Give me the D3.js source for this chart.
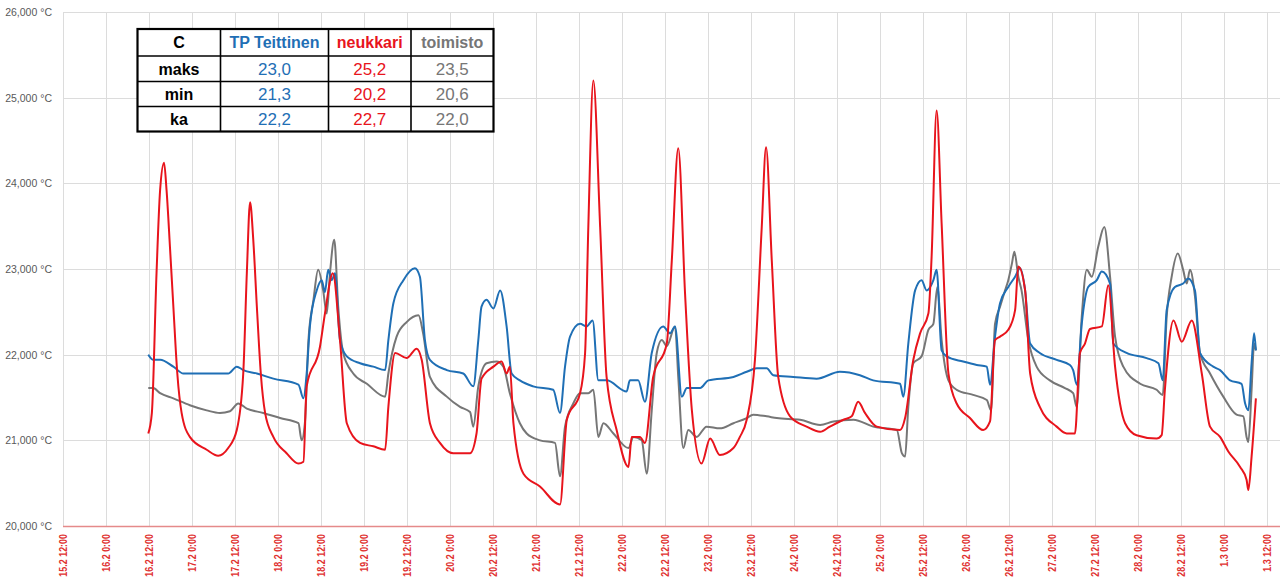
<!DOCTYPE html>
<html>
<head>
<meta charset="utf-8">
<script src="https://cdn.jsdelivr.net/npm/d3@7"></script>
<style>
  html, body { margin: 0; padding: 0; background: #ffffff; }
  svg { display: block; }
</style>
</head>
<body>
<svg id="chart" width="1280" height="585"></svg>
<script>
// ---------- DATA ----------
// time axis origin (15.2 12:00), point times are hours after it
const originTime = "2021-02-15T12:00:00";

const xTickLabels = ["15.2 12:00","16.2 0:00","16.2 12:00","17.2 0:00","17.2 12:00","18.2 0:00","18.2 12:00",
  "19.2 0:00","19.2 12:00","20.2 0:00","20.2 12:00","21.2 0:00","21.2 12:00","22.2 0:00","22.2 12:00",
  "23.2 0:00","23.2 12:00","24.2 0:00","24.2 12:00","25.2 0:00","25.2 12:00","26.2 0:00","26.2 12:00",
  "27.2 0:00","27.2 12:00","28.2 0:00","28.2 12:00","1.3 0:00","1.3 12:00"];
const xTickHours = [0,12,24,36,48,60,72,84,96,108,120,132,144,156,168,180,192,204,216,228,240,252,264,276,288,300,312,324,336];

const yTickValues = [20,21,22,23,24,25,26];
const yTickLabels = ["20,000 °C","21,000 °C","22,000 °C","23,000 °C","24,000 °C","25,000 °C","26,000 °C"];

const seriesNames = ["TP Teittinen","neukkari","toimisto"];

// TP Teittinen (blue)
const tpHours = [23.8,25.2,27.1,30.8,33.6,40.1,46.1,48.5,50.3,54.1,58.7,65.7,67.1,68.0,68.9,70.8,72.2,73.1,74.0,75.0,75.9,77.3,79.2,82.9,86.6,89.9,90.8,92.2,95.0,98.2,99.6,101.0,102.4,107.1,111.7,114.5,115.9,116.8,118.2,120.1,122.0,123.8,125.2,127.5,131.2,136.8,138.7,140.1,141.5,144.3,146.1,147.8,149.4,151.7,157.3,158.2,160.5,162.4,164.3,167.5,169.4,170.8,172.7,174.1,177.8,180.1,187.1,190.8,193.6,196.4,198.2,203.8,210.3,216.8,222.4,226.1,233.6,234.5,235.9,237.8,239.6,241.0,242.9,243.8,245.2,246.6,251.2,255.0,257.8,258.7,260.1,261.5,263.8,265.7,267.1,268.5,269.9,272.6,277.3,281.0,281.9,282.9,284.3,286.1,288.5,289.9,292.2,293.1,296.8,302.4,305.7,306.9,308.0,310.3,312.6,314.0,315.9,317.3,321.0,322.9,325.7,328.9,329.9,330.8,331.7,332.4,332.9];
const tpValues = [22.00,21.94,21.94,21.86,21.78,21.78,21.78,21.86,21.82,21.78,21.72,21.65,21.49,21.78,22.33,22.75,22.87,22.73,22.99,22.87,22.95,22.17,21.98,21.90,21.86,21.82,22.17,22.60,22.87,23.01,22.91,22.17,21.94,21.82,21.78,21.63,22.17,22.56,22.64,22.54,22.75,22.33,21.78,21.70,21.63,21.59,21.32,21.86,22.21,22.36,22.33,22.40,21.70,21.70,21.57,21.70,21.70,21.45,22.02,22.33,22.25,22.33,21.51,21.61,21.61,21.70,21.74,21.80,21.84,21.84,21.76,21.74,21.72,21.80,21.76,21.70,21.66,21.51,22.13,22.75,22.87,22.75,22.87,22.99,22.05,21.98,21.92,21.88,21.86,21.65,22.21,22.60,22.79,22.91,23.01,22.75,22.13,22.02,21.94,21.88,21.82,21.65,22.36,22.79,22.87,22.97,22.83,22.13,22.02,21.96,21.90,21.70,22.52,22.79,22.83,22.89,22.75,22.02,21.86,21.82,21.70,21.66,21.43,21.35,21.90,22.25,22.05];

// neukkari (red)
const neHours = [23.8,24.8,26.1,27.1,28.2,28.9,29.9,30.8,31.9,33.1,35.4,40.1,43.3,46.1,48.5,50.3,51.3,52.2,53.1,54.1,55.2,56.4,58.7,62.4,65.7,67.1,68.0,71.7,73.1,75.3,77.3,79.2,82.9,86.6,89.9,90.8,92.7,95.9,98.7,100.1,102.4,105.2,108.9,113.6,115.4,116.8,120.1,122.4,123.8,124.7,125.7,128.5,133.1,138.7,140.6,144.3,145.7,146.6,148.0,149.9,151.7,154.5,157.8,158.7,161.0,162.4,164.7,168.5,169.9,171.7,173.6,175.5,178.2,180.6,183.3,187.1,188.9,190.8,193.1,195.0,196.2,197.8,199.6,202.9,207.5,211.3,214.0,217.8,220.1,221.9,223.8,227.1,233.6,235.0,237.3,239.2,241.5,242.4,243.8,245.2,247.1,249.4,253.1,256.8,258.7,260.1,261.5,263.8,265.7,266.6,268.5,269.9,272.6,277.3,280.1,282.4,283.8,285.2,286.6,289.9,291.7,293.6,296.4,299.6,305.2,306.6,307.5,309.9,312.2,315.0,317.8,320.1,322.9,325.2,328.5,330.3,330.8,331.7,332.9];
const neValues = [21.08,21.32,22.95,23.92,24.24,23.92,23.22,22.56,21.78,21.32,21.04,20.89,20.82,20.91,21.12,21.78,22.95,23.78,23.34,22.56,21.78,21.32,21.04,20.85,20.73,20.75,21.63,22.09,22.48,22.95,22.17,21.20,20.97,20.93,20.89,21.39,22.02,21.96,22.07,21.94,21.20,20.97,20.85,20.85,21.08,21.72,21.86,21.92,21.78,21.86,21.20,20.61,20.46,20.25,21.24,21.55,22.02,23.49,25.20,23.49,21.74,21.12,20.69,21.04,21.04,20.97,21.74,22.13,23.10,24.41,22.71,21.35,20.73,21.02,20.83,20.91,21.04,21.24,21.94,23.49,24.42,23.10,21.74,21.28,21.16,21.10,21.16,21.24,21.28,21.45,21.32,21.16,21.12,21.26,21.94,22.25,22.48,23.14,24.85,23.53,21.78,21.43,21.26,21.12,21.22,22.17,22.21,22.29,22.52,23.03,22.75,21.78,21.39,21.16,21.08,21.08,22.02,22.13,22.30,22.33,22.81,21.86,21.20,21.06,21.02,21.06,21.59,22.40,22.15,22.40,21.78,21.16,21.04,20.87,20.69,20.54,20.42,20.81,21.49];

// toimisto (grey)
const toHours = [23.8,25.2,27.1,30.8,35.4,40.1,43.8,46.6,48.9,51.3,55.9,60.6,65.7,66.6,67.5,68.5,69.9,71.2,72.6,73.6,74.5,75.7,76.8,78.2,81.0,84.8,89.9,90.8,93.1,95.9,99.2,100.5,102.4,107.1,110.8,113.6,114.5,115.9,118.2,121.0,122.9,124.7,127.5,129.4,133.1,137.3,138.7,140.1,142.4,144.3,146.6,148.0,149.4,150.8,153.6,157.8,159.2,161.5,162.9,164.3,165.7,167.1,168.5,170.8,171.7,173.1,174.5,176.8,179.6,183.3,187.1,190.8,192.6,196.4,199.2,205.7,211.3,215.0,220.6,226.1,232.7,234.1,235.0,235.9,237.3,239.6,241.5,242.9,244.0,245.2,247.1,249.4,254.0,257.8,259.0,260.1,261.5,262.9,263.8,264.8,265.5,266.6,267.5,269.4,271.7,275.4,279.6,281.9,282.9,284.3,285.7,287.1,288.9,290.6,292.2,293.6,295.9,300.6,305.2,306.9,308.0,309.4,311.1,312.6,313.6,314.5,315.9,317.3,320.1,323.8,327.5,329.4,330.3,330.8,331.7,332.4,332.9];
const toValues = [21.61,21.61,21.55,21.49,21.41,21.35,21.32,21.34,21.43,21.37,21.32,21.26,21.20,21.00,21.20,22.17,22.64,22.99,22.75,22.48,22.95,23.34,22.56,22.02,21.78,21.66,21.51,21.78,22.21,22.38,22.46,22.25,21.74,21.51,21.39,21.33,21.16,21.63,21.90,21.92,21.86,21.55,21.20,21.08,21.00,20.97,20.58,21.16,21.43,21.55,21.55,21.59,21.04,21.20,21.08,20.91,21.04,21.00,20.61,21.35,22.02,22.17,22.10,22.33,21.74,20.91,21.12,21.04,21.16,21.14,21.20,21.26,21.30,21.28,21.26,21.24,21.18,21.22,21.24,21.16,21.12,20.85,20.81,21.39,21.90,21.98,22.29,22.36,22.79,22.17,21.70,21.59,21.53,21.47,21.35,22.36,22.56,22.75,22.87,23.06,23.20,22.91,22.75,22.17,21.86,21.70,21.61,21.55,21.39,22.44,22.99,22.91,23.26,23.49,22.91,22.21,21.86,21.66,21.59,21.53,22.44,22.91,23.18,22.99,22.83,22.99,22.68,22.02,21.78,21.51,21.30,21.28,21.04,20.98,21.59,22.13,22.05];

// summary table
const tableHeader = ["C","TP Teittinen","neukkari","toimisto"];
const tableRowLabels = ["maks","min","ka"];
const tableTP = ["23,0","21,3","22,2"];
const tableNe = ["25,2","20,2","22,7"];
const tableTo = ["23,5","20,6","22,0"];

// ---------- STYLE ----------
const colors = { tp: "#1f6fb5", ne: "#e8141c", to: "#767676" };
const headerColors = ["#000000", colors.tp, colors.ne, colors.to];

// ---------- CHART ----------
(function () {
const svg = d3.select("#chart");
const origin = new Date(originTime);
const toDate = h => new Date(origin.getTime() + h * 3600 * 1000);

const pLeft = 63, pTickRight = 1267, pTop = 12, pBottom = 526, pRight = 1280;

const x = d3.scaleTime()
  .domain([toDate(xTickHours[0]), toDate(xTickHours[xTickHours.length - 1])])
  .range([pLeft, pTickRight]);
const y = d3.scaleLinear().domain([20, 26]).range([pBottom, pTop]);

// horizontal gridlines
svg.append("g").selectAll("line").data(yTickValues.slice(1)).join("line")
  .attr("x1", pLeft).attr("x2", pRight)
  .attr("y1", d => Math.round(y(d)) + 0.5).attr("y2", d => Math.round(y(d)) + 0.5)
  .attr("stroke", "#dcdcdc").attr("stroke-width", 1);

// vertical gridlines
const xTickDates = xTickHours.map(toDate);
svg.append("g").selectAll("line").data(xTickDates).join("line")
  .attr("x1", d => Math.round(x(d)) + 0.5).attr("x2", d => Math.round(x(d)) + 0.5)
  .attr("y1", pTop).attr("y2", pBottom)
  .attr("stroke", "#dcdcdc").attr("stroke-width", 1);

// y axis labels
const yAxis = d3.axisLeft(y).tickValues(yTickValues)
  .tickFormat((d, i) => yTickLabels[i]).tickSize(0).tickPadding(11);
const yg = svg.append("g").attr("transform", `translate(${pLeft},0)`).call(yAxis);
yg.select(".domain").remove();
yg.selectAll("text").attr("fill", "#595959")
  .style("font-family", "'Liberation Sans', Arial, sans-serif").style("font-size", "10.5px");

// x axis
const xAxis = d3.axisBottom(x).tickValues(xTickDates)
  .tickFormat((d, i) => xTickLabels[i]).tickSize(0);
const xg = svg.append("g").attr("transform", `translate(0,${pBottom})`).call(xAxis);
xg.select(".domain").remove();
xg.selectAll("text")
  .attr("fill", "#e03030")
  .attr("transform", "rotate(-90) scale(0.85,1)")
  .attr("x", -9.4).attr("y", 0).attr("dy", "0.35em")
  .style("text-anchor", "end")
  .style("font-family", "'Liberation Sans', Arial, sans-serif")
  .style("font-size", "10.5px").style("font-weight", "bold");
svg.append("line").attr("x1", pLeft).attr("x2", pRight)
  .attr("y1", pBottom + 0.5).attr("y2", pBottom + 0.5)
  .attr("stroke", "#e58a8a").attr("stroke-width", 1.5);

// lines
const line = d3.line().x(d => x(toDate(d[0]))).y(d => y(d[1])).curve(d3.curveMonotoneX);
const seriesData = [
  { key: "to", pts: d3.zip(toHours, toValues) },
  { key: "tp", pts: d3.zip(tpHours, tpValues) },
  { key: "ne", pts: d3.zip(neHours, neValues) }
];
svg.append("g").selectAll("path").data(seriesData).join("path")
  .attr("d", d => line(d.pts))
  .attr("fill", "none")
  .attr("stroke", d => colors[d.key])
  .attr("stroke-width", 2)
  .attr("stroke-linejoin", "round");

// ---------- TABLE ----------
const colEdges = [137.5, 220.5, 328.5, 411, 493.5];
const rowEdges = [29, 56, 81.5, 106.5, 131.5];
const tg = svg.append("g").style("font-family", "'Liberation Sans', Arial, sans-serif");
tg.append("rect").attr("x", colEdges[0]).attr("y", rowEdges[0])
  .attr("width", colEdges[4] - colEdges[0]).attr("height", rowEdges[4] - rowEdges[0])
  .attr("fill", "#ffffff").attr("stroke", "#000").attr("stroke-width", 2.2);
colEdges.slice(1, 4).forEach(cx => tg.append("line")
  .attr("x1", cx).attr("x2", cx).attr("y1", rowEdges[0]).attr("y2", rowEdges[4])
  .attr("stroke", "#000").attr("stroke-width", 1.6));
rowEdges.slice(1, 4).forEach(ry => tg.append("line")
  .attr("x1", colEdges[0]).attr("x2", colEdges[4]).attr("y1", ry).attr("y2", ry)
  .attr("stroke", "#000").attr("stroke-width", 1.6));
const cxm = i => (colEdges[i] + colEdges[i + 1]) / 2;
const cym = j => (rowEdges[j] + rowEdges[j + 1]) / 2;
tableHeader.forEach((t, i) => tg.append("text")
  .attr("x", cxm(i)).attr("y", cym(0)).attr("dy", "0.36em").attr("text-anchor", "middle")
  .attr("fill", headerColors[i]).style("font-weight", "bold").style("font-size", "16px")
  .text(t));
const tableCols = [tableTP, tableNe, tableTo];
tableRowLabels.forEach((t, j) => {
  tg.append("text").attr("x", cxm(0)).attr("y", cym(j + 1)).attr("dy", "0.36em")
    .attr("text-anchor", "middle").attr("fill", "#000")
    .style("font-weight", "bold").style("font-size", "16px").text(t);
  tableCols.forEach((col, i) => tg.append("text")
    .attr("x", cxm(i + 1)).attr("y", cym(j + 1)).attr("dy", "0.36em")
    .attr("text-anchor", "middle").attr("fill", headerColors[i + 1])
    .style("font-size", "17px").text(col[j]));
});
})();
</script>
</body>
</html>
